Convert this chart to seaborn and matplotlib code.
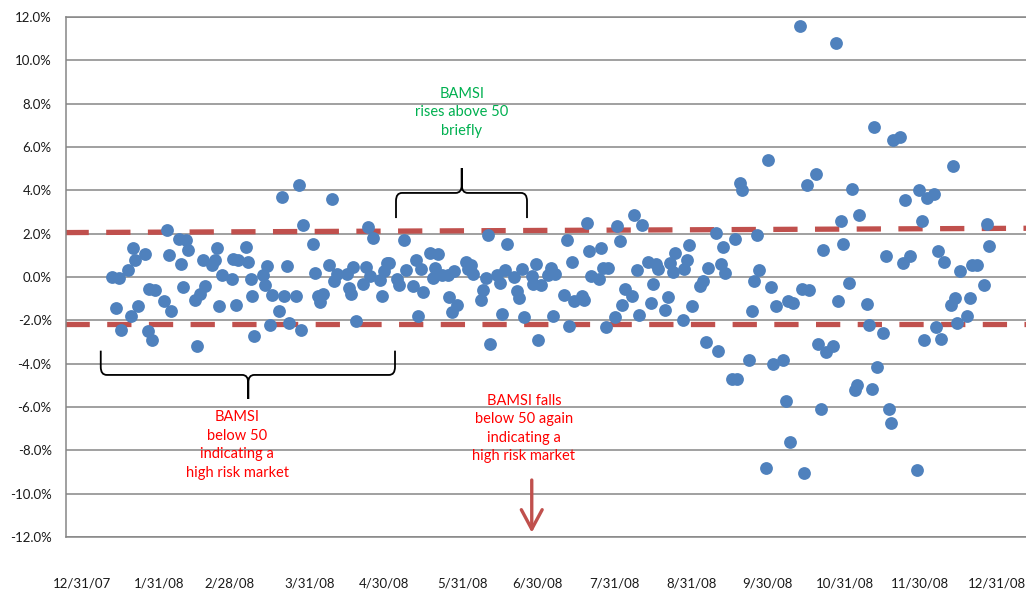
import matplotlib
matplotlib.use("Agg")
import matplotlib.pyplot as plt
import matplotlib.ticker as mticker
from matplotlib.path import Path
from matplotlib.patches import PathPatch
import pandas as pd
import seaborn as sns

# ------------------------------------------------------------
# Data: days since 12/31/07, daily return %
# ------------------------------------------------------------

START = pd.Timestamp("2007-12-31")

TRADE_DAYS = [
    11.9, 13.6, 14.8, 15.6, 18.4, 19.5, 20.3, 21.3, 22.3, 25.2,
    26.3, 26.9, 28.1, 29.2, 32.9, 33.9, 34.7, 35.6, 38.7, 39.6,
    40.5, 41.6, 42.5, 45.3, 46.1, 47.2, 48.3, 49.2, 52.1, 53.2,
    53.9, 54.8, 55.9, 59.9, 60.5, 61.6, 62.5, 65.5, 66.5, 67.5,
    68.1, 68.8, 72.3, 73.2, 74.1, 75.2, 75.9, 78.9, 79.9, 80.8,
    81.9, 82.9, 85.6, 86.7, 87.5, 88.5, 92.3, 93.3, 94.3, 95.2,
    96.3, 98.9, 100.0, 100.9, 102.1, 105.9, 106.8, 107.6, 108.5, 109.6,
    112.5, 113.5, 114.3, 115.2, 116.3, 119.2, 120.1, 120.9, 121.9, 122.9,
    125.9, 126.9, 128.8, 129.6, 132.5, 133.6, 134.5, 135.5, 136.5, 139.2,
    140.3, 141.2, 142.3, 143.9, 146.3, 146.9, 147.9, 148.9, 149.9, 153.6,
    154.5, 155.6, 156.5, 159.6, 160.5, 161.6, 162.3, 163.2, 166.1, 167.2,
    168.1, 169.2, 169.9, 172.9, 173.9, 174.8, 175.9, 176.8, 179.9, 180.5,
    181.5, 182.5, 183.6, 186.5, 187.5, 188.5, 189.2, 192.8, 193.9, 194.9,
    195.9, 196.8, 199.9, 200.9, 201.9, 202.8, 203.6, 206.7, 207.5, 208.3,
    209.5, 210.5, 213.2, 214.1, 215.2, 216.1, 217.2, 219.9, 220.9, 221.9,
    222.8, 223.9, 226.5, 227.6, 228.5, 229.6, 230.5, 233.3, 234.3, 235.2,
    236.3, 237.2, 240.3, 240.9, 241.9, 242.9, 243.9, 247.2, 248.3, 249.6,
    250.5, 253.5, 254.5, 255.5, 256.3, 257.2, 260.1, 261.2, 262.1, 263.2,
    264.1, 266.9, 267.9, 268.9, 269.9, 270.8, 273.6, 274.5, 275.6, 276.5,
    277.6, 280.5, 281.5, 282.3, 283.2, 284.5, 287.2, 287.9, 288.9, 289.9,
    290.9, 293.6, 294.5, 295.6, 296.5, 297.6, 300.5, 301.5, 302.3, 303.5,
    304.3, 306.9, 307.9, 309.2, 310.1, 310.9, 313.9, 314.9, 315.9, 316.8,
    317.9, 320.5, 321.6, 322.7, 323.5, 324.3, 327.2, 328.3, 329.2, 331.2,
    334.1, 334.9, 335.9, 336.9, 337.9, 340.8, 341.6, 342.5, 343.6, 344.8,
    347.5, 348.5, 349.3, 350.1, 351.2, 354.1, 355.2, 356.0, 357.9, 360.8,
    361.9, 362.9,
]

DAILY_RETURNS = [
    0.00, -1.43, -0.03, -2.46, 0.31, -1.82, 1.34, 0.80, -1.35, 1.08,
    -2.49, -0.54, -2.92, -0.62, -1.12, 2.15, 1.00, -1.58, 1.74, 0.62,
    -0.46, 1.69, 1.23, -1.05, -3.20, -0.77, 0.80, -0.42, 0.57, 0.77,
    1.35, -1.34, 0.08, -0.09, 0.83, -1.28, 0.80, 1.37, 0.68, -0.09,
    -0.89, -2.72, 0.08, -0.37, 0.51, -2.20, -0.85, -1.55, 3.69, -0.89,
    0.49, -2.10, -0.89, 4.23, -2.43, 2.38, 1.52, 0.20, -0.86, -1.15,
    -0.80, 0.57, 3.58, -0.18, 0.15, 0.15, -0.51, -0.80, 0.46, -2.03,
    -0.34, 0.46, 2.31, 0.03, 1.82, -0.12, -0.86, 0.26, 0.66, 0.66,
    -0.08, -0.38, 1.72, 0.31, -0.43, 0.80, -1.80, 0.38, -0.69, 1.11,
    -0.03, 0.43, 1.05, 0.11, 0.08, -0.92, -1.62, 0.26, -1.31, 0.69,
    0.38, 0.54, 0.12, -1.05, -0.58, -0.03, 1.95, -3.08, 0.08, -0.26,
    -1.69, 0.31, 1.51, 0.00, -0.65, -0.97, 0.38, -1.85, 0.03, -0.34,
    0.58, -2.92, -0.38, 0.11, 0.43, -1.80, 0.12, -0.85, 1.69, -2.28,
    0.69, -1.11, -0.89, -1.08, 2.51, 1.20, 0.03, -0.08, 1.34, 0.43,
    -2.31, 0.43, -1.85, 2.34, 1.66, -1.31, -0.54, -0.89, 2.88, 0.34,
    -1.77, 2.38, 0.69, -1.20, -0.31, 0.58, 0.38, -1.51, -0.92, 0.65,
    0.23, 1.12, -1.97, 0.35, 0.80, 1.46, -1.35, -0.43, -0.18, -3.00,
    0.43, 2.03, -3.42, 0.58, 1.38, 0.20, -4.69, 1.74, -4.69, 4.34,
    4.00, -3.82, -1.57, -0.20, 1.95, 0.34, -8.80, 5.38, -0.46, -4.03,
    -1.35, -3.85, -5.74, -1.12, -7.62, -1.20, 11.58, -0.54, -9.03, 4.23,
    -0.62, 4.77, -3.08, -6.11, 1.26, -3.46, -3.18, 10.78, -1.11, 2.57,
    1.54, -0.26, 4.08, -5.23, -5.00, 2.88, -1.26, -2.20, -5.18, 6.92,
    -4.15, -2.58, 0.97, -6.11, -6.72, 6.31, 6.46, 0.64, 3.54, 0.97,
    -8.92, 4.00, 2.58, -2.92, 3.65, 3.85, -2.31, 1.18, -2.85, 0.69,
    -1.28, 5.12, -0.97, -2.10, 0.28, -1.82, -0.97, 0.57, 0.54, -0.38,
    2.43, 1.42,
]

# red dashed bands at both ends of the axis
BAND_DAYS = [-7, 380]
UPPER_BAND = [2.05, 2.25]
LOWER_BAND = [-2.15, -2.15]

TICK_DATES = [
    "2007-12-31", "2008-01-31", "2008-02-28", "2008-03-31", "2008-04-30",
    "2008-05-31", "2008-06-30", "2008-07-31", "2008-08-31", "2008-09-30",
    "2008-10-31", "2008-11-30", "2008-12-31",
]
TICK_LABELS = [
    "12/31/07", "1/31/08", "2/28/08", "3/31/08", "4/30/08", "5/31/08",
    "6/30/08", "7/31/08", "8/31/08", "9/30/08", "10/31/08", "11/30/08",
    "12/31/08",
]
Y_TICKS = list(range(-12, 13, 2))

BLUE = "#4F81BD"
RED = "#C0504D"
GRID = "#868686"


def draw_brace(ax, x0, x1, xc, y_end, y_mid, y_tip, rx, ry):
    """Curly brace: ends at y_end, bar at y_mid, point at y_tip."""
    d = 1 if y_end > y_mid else -1
    t = -d
    verts = [
        (x0, y_end), (x0, y_mid + d * ry),
        (x0, y_mid), (x0 + rx, y_mid),
        (xc - rx, y_mid),
        (xc, y_mid), (xc, y_mid + t * ry),
        (xc, y_tip),
        (xc, y_tip), (xc, y_mid + t * ry),
        (xc, y_mid), (xc + rx, y_mid),
        (x1 - rx, y_mid),
        (x1, y_mid), (x1, y_mid + d * ry),
        (x1, y_end),
    ]
    codes = [
        Path.MOVETO, Path.LINETO,
        Path.CURVE3, Path.CURVE3,
        Path.LINETO,
        Path.CURVE3, Path.CURVE3,
        Path.LINETO,
        Path.MOVETO, Path.LINETO,
        Path.CURVE3, Path.CURVE3,
        Path.LINETO,
        Path.CURVE3, Path.CURVE3,
        Path.LINETO,
    ]
    ax.add_patch(PathPatch(Path(verts, codes), fill=False, edgecolor="black",
                           linewidth=1.3, zorder=4))


# ============================================================
# Frames
# ============================================================

returns_df = pd.DataFrame({"day": TRADE_DAYS, "ret": DAILY_RETURNS})
band_df = pd.DataFrame({"day": BAND_DAYS, "upper": UPPER_BAND,
                        "lower": LOWER_BAND})
tick_days = [(pd.Timestamp(d) - START).days for d in TICK_DATES]

# ============================================================
# Plot
# ============================================================

sns.set_style("white")
plt.rcParams["font.family"] = ["Lato", "DejaVu Sans"]

fig = plt.figure(figsize=(10.26, 5.94), dpi=100)
ax = fig.add_axes([66 / 1026, 57 / 594, 960 / 1026, 520 / 594])

for col in ["upper", "lower"]:
    sns.lineplot(data=band_df, x="day", y=col, ax=ax, color=RED,
                 linewidth=3.8, linestyle=(0, (4.6, 3.3)), zorder=2)

sns.scatterplot(data=returns_df, x="day", y="ret", ax=ax, s=85,
                color=BLUE, linewidth=0, zorder=3)

ax.set_xlim(-6.4, 377.6)
ax.set_ylim(-12, 12)
ax.set_yticks(Y_TICKS)
ax.yaxis.set_major_formatter(mticker.FuncFormatter(lambda v, p: f"{v:.1f}%"))
ax.set_xticks(tick_days)
ax.set_xticklabels(TICK_LABELS)
ax.set_xlabel("")
ax.set_ylabel("")

ax.grid(axis="y", color=GRID, linewidth=1.1)
ax.grid(axis="x", visible=False)
ax.set_axisbelow(True)
for side in ["left", "top", "bottom"]:
    ax.spines[side].set_visible(True)
    ax.spines[side].set_color(GRID)
    ax.spines[side].set_linewidth(1.1)
ax.spines["right"].set_visible(False)

ax.tick_params(axis="y", length=4.3, width=1.1, color=GRID, pad=6,
               labelsize=9.5, labelcolor="#1a1a1a")
ax.tick_params(axis="x", length=0, pad=29, labelsize=9.5,
               labelcolor="#1a1a1a")

# braces
draw_brace(ax, 7.5, 125.2, 66.5, -3.4, -4.52, -5.63, 2.4, 0.37)
draw_brace(ax, 125.6, 178.0, 151.9, 2.72, 3.88, 5.03, 2.4, 0.37)

# annotations
note_style = dict(fontsize=10.5, ha="center", va="center",
                  multialignment="center", linespacing=1.4)
ax.text(62.0, -7.75, "BAMSI\nbelow 50\nindicating a\nhigh risk market",
        color="#FF0000", **note_style)
ax.text(152.0, 7.6, "BAMSI\nrises above 50\nbriefly",
        color="#00B050", **note_style)
ax.text(176.8, -6.99, "BAMSI falls\nbelow 50 again\nindicating a\nhigh risk market",
        color="#FF0000", **note_style)

ax.annotate("", xy=(179.9, -11.8), xytext=(179.9, -9.37),
            arrowprops=dict(arrowstyle="->,head_length=1.4,head_width=0.75",
                            color=RED, lw=2.4, shrinkA=0, shrinkB=0,
                            mutation_scale=10))

fig.savefig("out.png", dpi=100)
plt.close(fig)
